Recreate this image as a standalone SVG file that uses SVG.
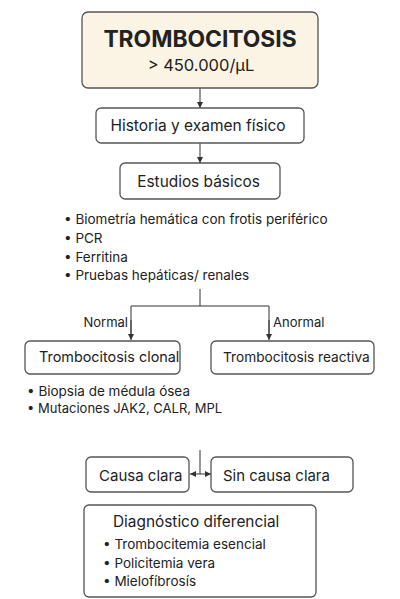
<svg xmlns="http://www.w3.org/2000/svg" width="400" height="599" viewBox="0 0 400 599">
<defs>
<style>
.box{fill:#ffffff;stroke:#555555;stroke-width:1.3}
.top{fill:#fbf3e4;stroke:#555555;stroke-width:1.3}
.t{font-family:"Inter","Liberation Sans",sans-serif;fill:#222222}
.c{text-anchor:middle}
.ln{fill:none;stroke:#333333;stroke-width:1}
</style>
<marker id="ah" viewBox="0 0 10 10" refX="10" refY="5" markerWidth="6" markerHeight="6" orient="auto-start-reverse" markerUnits="userSpaceOnUse">
<path d="M0,0 L10,5 L0,10 z" fill="#333333"/>
</marker>
</defs>
<rect width="400" height="599" fill="#ffffff"/>
<g id="connectors">
<line class="ln" x1="200" y1="88" x2="200" y2="108" marker-end="url(#ah)"/>
<line class="ln" x1="200" y1="143" x2="200" y2="163" marker-end="url(#ah)"/>
<polyline class="ln" points="200,289 200,306"/>
<polyline class="ln" points="131,338 131,306 269,306 269,338" />
<line class="ln" x1="131" y1="320" x2="131" y2="340" marker-end="url(#ah)"/>
<line class="ln" x1="269" y1="320" x2="269" y2="340" marker-end="url(#ah)"/>
<line class="ln" x1="200" y1="450" x2="200" y2="474"/>
<line class="ln" x1="190" y1="474" x2="211" y2="474" marker-start="url(#ah)" marker-end="url(#ah)"/>
<text class="t" x="128" y="327" font-size="13" text-anchor="end">Normal</text>
<text class="t" x="273" y="327" font-size="13">Anormal</text>
</g>
<g id="n-trombocitosis">
<rect class="top" x="82" y="12" width="236" height="76" rx="6"/>
<text class="t c" x="200" y="47" font-size="22.8" font-weight="bold">TROMBOCITOSIS</text>
<text class="t c" x="201" y="71" font-size="16.5">&gt; 450.000/μL</text>
</g>
<g id="n-historia">
<rect class="box" x="96" y="108" width="208" height="35" rx="5"/>
<text class="t c" x="198" y="131" font-size="15.5">Historia y examen físico</text>
</g>
<g id="n-estudios">
<rect class="box" x="120" y="163" width="160" height="36" rx="5"/>
<text class="t c" x="198.5" y="187" font-size="15.4">Estudios básicos</text>
</g>
<g id="n-estudios-lista" class="t" font-size="13.5">
<text x="64" y="224">• Biometría hemática con frotis periférico</text>
<text x="64" y="243">• PCR</text>
<text x="64" y="262">• Ferritina</text>
<text x="64" y="280">• Pruebas hepáticas/ renales</text>
</g>
<g id="n-clonal">
<rect class="box" x="25" y="341" width="155" height="33" rx="5"/>
<text class="t" x="39" y="362" font-size="14.4">Trombocitosis clonal</text>
</g>
<g id="n-reactiva">
<rect class="box" x="211" y="341" width="163" height="33" rx="5"/>
<text class="t" x="223" y="362" font-size="13.7">Trombocitosis reactiva</text>
</g>
<g id="n-clonal-lista" class="t" font-size="13.5">
<text x="27" y="396">• Biopsia de médula ósea</text>
<text x="27" y="413" font-size="13">• Mutaciones JAK2, CALR, MPL</text>
</g>
<g id="n-causa">
<rect class="box" x="86" y="457" width="103" height="35" rx="5"/>
<text class="t" x="99" y="481" font-size="15">Causa clara</text>
</g>
<g id="n-sin-causa">
<rect class="box" x="211" y="457" width="142" height="35" rx="5"/>
<text class="t" x="223" y="481" font-size="14.9">Sin causa clara</text>
</g>
<g id="n-diagnostico">
<rect class="box" x="84" y="505" width="232" height="92" rx="5"/>
<text class="t" x="113" y="527" font-size="15.4">Diagnóstico diferencial</text>
<g font-size="13.5" class="t">
<text x="103" y="549">• Trombocitemia esencial</text>
<text x="103" y="568">• Policitemia vera</text>
<text x="103" y="586">• Mielofíbrosís</text>
</g>
</g>
</svg>
